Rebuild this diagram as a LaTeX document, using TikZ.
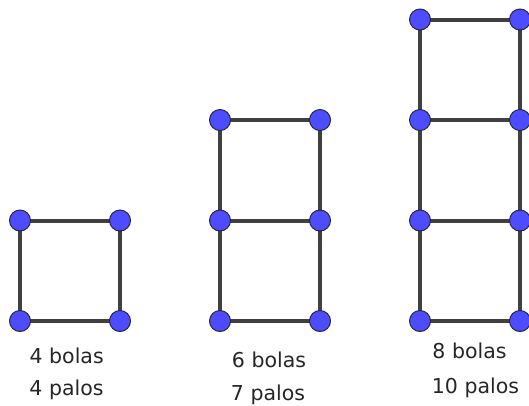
\documentclass[tikz,border=0pt]{standalone}
\usepackage{fontspec}
\setmainfont{DejaVu Sans}
\definecolor{stick}{RGB}{64,64,64}
\definecolor{ballfill}{RGB}{77,77,255}
\definecolor{ballline}{RGB}{40,40,60}
\begin{document}
\begin{tikzpicture}[x=1pt,y=-1pt,
  ball/.style={circle,fill=ballfill,draw=ballline,line width=1pt,minimum size=21pt,inner sep=0pt},
  stickline/.style={draw=stick,line width=4pt},
  lbl/.style={anchor=base,inner sep=0pt,font=\fontsize{20.5}{24}\selectfont,text=black!85}]
\useasboundingbox (0,0) rectangle (529,405);
% figure 1
\coordinate (a1) at (20,220.5); \coordinate (a2) at (120,220.5);
\coordinate (a3) at (20,321);   \coordinate (a4) at (120,321);
\draw[stickline] (a1) -- (a2) -- (a4) -- (a3) -- cycle;
\foreach \p in {a1,a2,a3,a4} \node[ball] (n\p) at (\p) {};
% figure 2
\coordinate (b1) at (220,120);   \coordinate (b2) at (320,120);
\coordinate (b3) at (220,220.5); \coordinate (b4) at (320,220.5);
\coordinate (b5) at (220,321);   \coordinate (b6) at (320,321);
\draw[stickline] (b1) -- (b2) -- (b6) -- (b5) -- cycle;
\draw[stickline] (b3) -- (b4);
\foreach \p in {b1,b2,b3,b4,b5,b6} \node[ball] (n\p) at (\p) {};
% figure 3
\coordinate (c1) at (420,19.5);  \coordinate (c2) at (520,19.5);
\coordinate (c3) at (420,120);   \coordinate (c4) at (520,120);
\coordinate (c5) at (420,220.5); \coordinate (c6) at (520,220.5);
\coordinate (c7) at (420,321);   \coordinate (c8) at (520,321);
\draw[stickline] (c1) -- (c2) -- (c8) -- (c7) -- cycle;
\draw[stickline] (c3) -- (c4);
\draw[stickline] (c5) -- (c6);
\foreach \p in {c1,c2,c3,c4,c5,c6,c7,c8} \node[ball] (n\p) at (\p) {};
% labels
\node[lbl] (t1) at (66.7,363) {4 bolas};
\node[lbl] (t2) at (66.5,395) {4 palos};
\node[lbl] (t3) at (269,367) {6 bolas};
\node[lbl] (t4) at (268,400) {7 palos};
\node[lbl] (t5) at (469.5,358) {8 bolas};
\node[lbl] (t6) at (475.5,393) {10 palos};
\end{tikzpicture}
\end{document}
